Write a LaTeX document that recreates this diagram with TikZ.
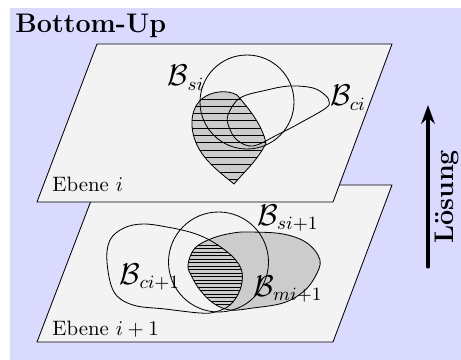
\documentclass[tikz,border=0pt]{standalone}
\usepackage{tikz}
\usetikzlibrary{arrows.meta}
\definecolor{bildHintergrund}{RGB}{218,218,255}
\definecolor{ebeneGrau}{RGB}{243,243,243}
\definecolor{mengeGrau}{RGB}{204,204,204}
\tikzset{
    bild/.style={x=0.48pt, y=-0.48pt, line cap=round, line join=round},
    ebene/.style={draw=black, thin, fill=ebeneGrau},
    menge/.style={draw=black, thin},
    schnitt/.style={draw=black, thin, fill=mengeGrau},
    strich/.style={draw=black, line width=0.45pt},
    mengelabel/.style={font=\fontsize{13.5}{16}\selectfont, inner sep=0pt},
    ebenelabel/.style={anchor=base west, inner sep=0pt},
    titel/.style={font=\fontsize{12.9}{15}\selectfont\bfseries,
                  anchor=base west, inner sep=0pt},
    pfeil/.style={-{Stealth[length=9pt, width=6.5pt]}, line width=1.5pt},
}
% Umrisse der Mengen (Bildkoordinaten)
\newcommand{\umrissCi}{plot[smooth cycle, tension=0.6] coordinates {
    (228,115) (240,98) (267,90) (290,86) (313,88) (325,95) (329,101)
    (326,108) (300,123) (277,135) (253,146) (237,140) (229,127)}}
\newcommand{\umrissLoesung}{(234,184) .. controls (222,174) and (205,162) .. (197,145)
    .. controls (189,128) and (190,108) .. (203,98)
    .. controls (211,92) and (226,89) .. (237,95)
    .. controls (250,110) and (262,125) .. (266,143)
    .. controls (258,160) and (244,172) .. (234,184) -- cycle}
\newcommand{\umrissCiNext}{plot[smooth cycle, tension=0.6] coordinates {
    (107,262) (110,240) (124,228) (143,224) (167,227) (193,233) (213,242)
    (233,257) (242,272) (240,290) (230,305) (215,312) (200,313)
    (165,309) (133,305) (114,292)}}
\newcommand{\umrissMiNext}{plot[smooth cycle, tension=0.6] coordinates {
    (195,248) (213,238) (233,233) (250,232) (283,234) (307,243) (320,260)
    (315,277) (303,292) (283,303) (253,308) (230,310) (213,303)
    (200,290) (192,277) (188,265)}}

\begin{document}
\begin{tikzpicture}[bild]

\useasboundingbox (0,0) rectangle (461,360);
\fill[bildHintergrund] (10,8) rectangle (461,360);

\node[titel] (titel) at (15,33) {Bottom-Up};

% ─── Ebene i+1 ──────────────────────────────────────────────────────────
\draw[ebene] (97,185) -- (392,185) -- (333,342) -- (37,342) -- cycle;

\fill[mengeGrau] \umrissMiNext;
\begin{scope}
    \clip \umrissMiNext;
    \clip \umrissCiNext;
    \foreach \y in {245,248.5,...,316} \draw[strich] (180,\y) -- (250,\y);
\end{scope}
\draw[menge] \umrissMiNext;
\draw[menge] \umrissCiNext;
\draw[menge] (218.5,262) circle[radius=50];

\node[mengelabel] (bsinext) at (288,218) {$\mathcal{B}_{si+1}$};
\node[mengelabel] (bcinext) at (150,277) {$\mathcal{B}_{ci+1}$};
\node[mengelabel] (bminext) at (288,289) {$\mathcal{B}_{mi+1}$};
\node[ebenelabel] (ebenenext) at (52,335) {Ebene $i+1$};

% ─── Ebene i ────────────────────────────────────────────────────────────
\draw[ebene] (97,44) -- (392,44) -- (333,202) -- (37,202) -- cycle;

\begin{scope}
    \clip \umrissLoesung;
    \fill[mengeGrau] (180,80) rectangle (280,190);
    \foreach \y in {99,106.3,...,186} \draw[strich] (180,\y) -- (280,\y);
\end{scope}
\draw[menge] \umrissLoesung;
\draw[menge] (247,102) circle[radius=47];
\draw[menge] \umrissCi;

\node[mengelabel] (bsi) at (186,78) {$\mathcal{B}_{si}$};
\node[mengelabel] (bci) at (348,98) {$\mathcal{B}_{ci}$};
\node[ebenelabel] (ebene) at (52,191.7) {Ebene $i$};

% ─── Richtung der Lösung ────────────────────────────────────────────────
\coordinate (pfeilUnten) at (428,267);
\coordinate (pfeilOben) at (428,105);
\draw[pfeil] (pfeilUnten) -- (pfeilOben);
\node[font=\fontsize{12.9}{15}\selectfont\bfseries, rotate=90] (loesung)
    at (447,197) {Lösung};

\end{tikzpicture}
\end{document}
